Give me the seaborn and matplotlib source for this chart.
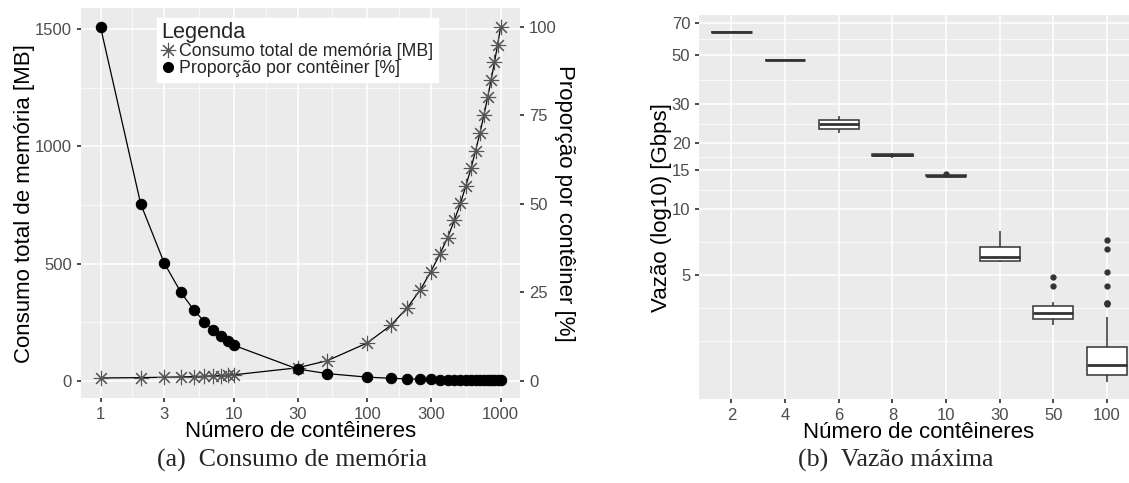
import matplotlib
matplotlib.use('Agg')
import matplotlib.pyplot as plt
from matplotlib.lines import Line2D
from matplotlib.ticker import FixedLocator, FixedFormatter, NullFormatter
import numpy as np
import pandas as pd
import seaborn as sns

# (a) memory consumption
containers = [1, 2, 3, 4, 5, 6, 7, 8, 9, 10, 30, 50,
              100, 150, 200, 250, 300, 350, 400, 450, 500, 550,
              600, 650, 700, 750, 800, 850, 900, 950, 1000]
memory_mb = [11.5, 13, 14.5, 16, 17.5, 19, 20.5, 22, 23.5, 25, 55, 85,
             161, 236, 312, 388, 466, 540, 610, 684, 758, 833,
             907, 982, 1057, 1134, 1210, 1285, 1360, 1434, 1510]
proportion_pct = [100, 50, 33.3, 25, 20, 16.7, 14.3, 12.5, 11.1, 10, 3.3, 2.0,
                  1.0, 0.67, 0.5, 0.4, 0.33, 0.29, 0.25, 0.22, 0.2, 0.18,
                  0.17, 0.15, 0.14, 0.13, 0.13, 0.12, 0.11, 0.11, 0.1]
mem_ticks = [0, 500, 1000, 1500]
prop_ticks = [0, 25, 50, 75, 100]
n_ticks = [1, 3, 10, 30, 100, 300, 1000]

# (b) max throughput, samples per container count
box_order = ['2', '4', '6', '8', '10', '30', '50', '100']
vazao_2 = [63.7, 63.7, 63.75, 63.8, 63.8, 63.85, 63.9, 63.9, 63.9]
vazao_4 = [47.4, 47.4, 47.45, 47.5, 47.5, 47.55, 47.6, 47.6, 47.6]
vazao_6 = [22.2, 22.8, 23.1, 23.6, 24.3, 24.9, 25.4, 25.9, 26.5]
vazao_8 = [17.1, 17.3, 17.4, 17.5, 17.6, 17.65, 17.8, 17.85, 17.95]
vazao_10 = [14.1, 14.15, 14.18, 14.2, 14.2, 14.22, 14.25, 14.3, 14.5]
vazao_30 = [5.76, 5.80, 5.82, 5.9, 6.03, 6.3, 6.70, 7.2, 7.94]
vazao_50 = [2.97, 3.05, 3.12, 3.16, 3.22, 3.30, 3.36, 3.42, 3.52, 3.61,
            3.77, 4.44, 4.92]
vazao_100 = [1.64, 1.65, 1.66, 1.68, 1.69, 1.70, 1.72, 1.74, 1.75,
             1.77, 1.79, 1.81, 1.84, 1.87, 1.89, 1.92, 1.94,
             1.98, 2.02, 2.07, 2.12, 2.18, 2.24, 2.30, 2.35,
             3.22, 3.69, 3.72, 3.75, 4.44, 5.15, 6.58, 7.23]
vazao_ticks = [5, 10, 15, 20, 30, 50, 70]

sns.set_theme(style='darkgrid', rc={
    'axes.facecolor': '#EBEBEB',
    'grid.color': 'white',
    'axes.edgecolor': '#EBEBEB',
    'xtick.bottom': True, 'ytick.left': True,
    'xtick.major.size': 3, 'ytick.major.size': 3,
    'xtick.color': '#333333', 'ytick.color': '#333333',
    'xtick.labelcolor': '#4D4D4D', 'ytick.labelcolor': '#4D4D4D',
    'xtick.labelsize': 12, 'ytick.labelsize': 12,
})
plt.rcParams['font.family'] = ['Liberation Sans', 'DejaVu Sans']

fig = plt.figure(figsize=(11.29, 4.83), dpi=100)
ax1 = fig.add_axes([0.0717, 0.176, 0.3888, 0.8068])
ax3 = fig.add_axes([0.6194, 0.1733, 0.3806, 0.7957])

# ---- left panel
ax1.set_xscale('log')
ax1.set_xlim(0.713, 1396)
ax1.set_ylim(-74, 1590)
ax2 = ax1.twinx()
ax2.set_ylim(-74 / 15.1, 1590 / 15.1)

sns.lineplot(x=containers, y=memory_mb, ax=ax1, color='black', linewidth=0.9,
             marker=(8, 2, 0), markersize=11, markeredgecolor='#555555',
             markeredgewidth=0.8, errorbar=None, zorder=3)
sns.lineplot(x=containers, y=proportion_pct, ax=ax2, color='black', linewidth=0.9,
             marker='o', markersize=7.5, markeredgecolor='black',
             errorbar=None, zorder=4)

ax1.xaxis.set_major_locator(FixedLocator(n_ticks))
ax1.xaxis.set_major_formatter(FixedFormatter([str(t) for t in n_ticks]))
ax1.xaxis.set_minor_locator(FixedLocator([1.732, 5.477, 17.32, 54.77, 173.2, 547.7]))
ax1.xaxis.set_minor_formatter(NullFormatter())
ax1.yaxis.set_major_locator(FixedLocator(mem_ticks))
ax1.yaxis.set_minor_locator(FixedLocator([250, 750, 1250]))
ax1.tick_params(which='minor', length=0)
ax1.grid(which='major', color='white', linewidth=1.1)
ax1.grid(which='minor', color='white', linewidth=0.5)

ax2.grid(False)
ax2.yaxis.set_major_locator(FixedLocator(prop_ticks))
ax2.tick_params(axis='y', right=True, length=3, color='#333333',
                labelcolor='#4D4D4D', labelsize=12)
for s in ax2.spines.values():
    s.set_visible(False)

ax1.set_xlabel('Número de contêineres', fontsize=16, color='black')
ax1.xaxis.set_label_coords(0.5, -0.087)
ax1.xaxis.label.set_va('center')
ax1.set_ylabel('Consumo total de memória [MB]', fontsize=16, color='black', va='center')
ax1.yaxis.set_label_coords(-0.1276, 0.5)
ax2.set_ylabel('Proporção por contêiner [%]', fontsize=16, color='black',
               rotation=270, va='center')
ax2.yaxis.set_label_coords(1.1025, 0.5)

handles = [Line2D([], [], linestyle='none', marker=(8, 2, 0), markersize=11,
                  markeredgecolor='#555555', markeredgewidth=0.8),
           Line2D([], [], linestyle='none', marker='o', markersize=7,
                  color='black')]
leg = ax2.legend(handles, ['Consumo total de memória [MB]',
                           'Proporção por contêiner [%]'],
                 title='Legenda', loc='upper left', bbox_to_anchor=(0.173, 0.975),
                 frameon=True, fancybox=False, framealpha=1, edgecolor='white',
                 facecolor='white', borderpad=0.25, labelspacing=0.0,
                 handlelength=0.8, handletextpad=0.2, borderaxespad=0,
                 fontsize=12.8, title_fontsize=15.7, alignment='left')

# ---- right panel
box_df = pd.DataFrame({
    'n': (['2'] * len(vazao_2) + ['4'] * len(vazao_4) + ['6'] * len(vazao_6)
          + ['8'] * len(vazao_8) + ['10'] * len(vazao_10) + ['30'] * len(vazao_30)
          + ['50'] * len(vazao_50) + ['100'] * len(vazao_100)),
    'vazao': vazao_2 + vazao_4 + vazao_6 + vazao_8 + vazao_10 + vazao_30
             + vazao_50 + vazao_100,
})
ax3.set_yscale('log')
sns.boxplot(data=box_df, x='n', y='vazao', order=box_order, ax=ax3,
            color='white', linecolor='#333333', linewidth=1.1, width=0.75,
            fliersize=3.5, saturation=1,
            flierprops=dict(marker='o', markerfacecolor='#333333',
                            markeredgecolor='#333333'),
            medianprops=dict(linewidth=2.0),
            capprops=dict(linewidth=0))
ax3.set_xlim(-0.6, 7.41)
ax3.set_ylim(1.361, 76.4)
ax3.yaxis.set_major_locator(FixedLocator(vazao_ticks))
ax3.yaxis.set_major_formatter(FixedFormatter([str(t) for t in vazao_ticks]))
ax3.yaxis.set_minor_locator(FixedLocator([2.5, 3.54, 7.07, 12.25, 17.32,
                                          24.49, 38.73, 59.16]))
ax3.yaxis.set_minor_formatter(NullFormatter())
ax3.tick_params(which='minor', length=0)
ax3.grid(which='major', color='white', linewidth=1.1)
ax3.grid(which='minor', axis='y', color='white', linewidth=0.5)
ax3.set_xlabel('Número de contêineres', fontsize=16, color='black')
ax3.xaxis.set_label_coords(0.511, -0.087)
ax3.xaxis.label.set_va('center')
ax3.set_ylabel('Vazão (log10) [Gbps]', fontsize=16, color='black', va='center')
ax3.yaxis.set_label_coords(-0.087, 0.5)
for a in (ax1, ax3):
    for s in a.spines.values():
        s.set_visible(False)

fig.text(292 / 1129, 1 - 460 / 483, '(a)  Consumo de memória',
         family=['Liberation Serif', 'DejaVu Serif'], fontsize=18.6,
         ha='center', va='center')
fig.text(896 / 1129, 1 - 460 / 483, '(b)  Vazão máxima',
         family=['Liberation Serif', 'DejaVu Serif'], fontsize=18.6,
         ha='center', va='center')

fig.savefig('out.png', dpi=100)
